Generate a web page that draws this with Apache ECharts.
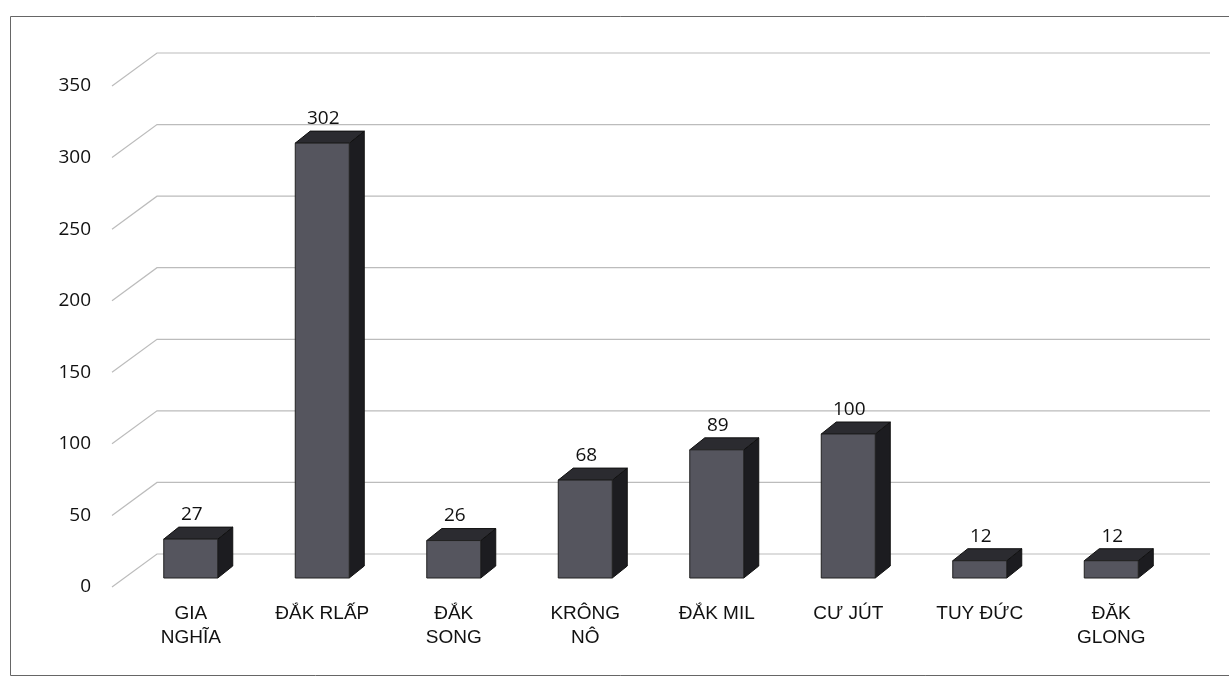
<!DOCTYPE html>
<html>
<head>
<meta charset="utf-8">
<script src="https://cdn.jsdelivr.net/npm/echarts@6/dist/echarts.min.js"></script>
<style>
  html, body { margin: 0; background: #fff; }
  #chart { width: 1229px; height: 679px; }
</style>
</head>
<body>
<div id="chart"></div>
<script>
// districts and counts
const districts = ["GIA\nNGHĨA", "ĐẮK RLẤP", "ĐẮK\nSONG", "KRÔNG\nNÔ", "ĐẮK MIL", "CƯ JÚT", "TUY ĐỨC", "ĐĂK\nGLONG"];
const counts = [27, 302, 26, 68, 89, 100, 12, 12];
const yTicks = [0, 50, 100, 150, 200, 250, 300, 350];

const chart = echarts.init(document.getElementById("chart"));

// depth of the back wall and of the boxes
const WALL_DX = 45, WALL_DY = -33;
const BOX_W = 54, BOX_DX = 15, BOX_DY = -12;

const option = {
  animation: false,
  backgroundColor: "#fff",
  graphic: [
    {
      type: "rect",
      shape: { x: 10.5, y: 16.5, width: 1240, height: 659 },
      style: { fill: "none", stroke: "#666", lineWidth: 1 },
      z: -10,
    },
  ],
  grid: [
    // front axis (labels + start of the slanted lines)
    { left: 112, right: 64, top: 86, bottom: 92 },
    // boxes
    { left: 125, right: 52, top: 74, bottom: 101 },
  ],
  xAxis: [
    { gridIndex: 0, type: "value", min: 0, max: 1, show: false },
    {
      gridIndex: 1,
      type: "category",
      data: districts,
      axisLine: { show: false },
      axisTick: { show: false },
      axisLabel: {
        margin: 24,
        fontFamily: "Liberation Sans",
        fontSize: 19,
        lineHeight: 24,
        color: "#111",
      },
    },
  ],
  yAxis: [
    {
      gridIndex: 0,
      type: "value",
      min: 0,
      max: 350,
      interval: 50,
      axisLine: { show: false },
      axisTick: { show: false },
      splitLine: { show: false },
      axisLabel: {
        margin: 21,
        fontFamily: "Open Sans",
        fontSize: 19,
        color: "#111",
      },
    },
    { gridIndex: 1, type: "value", min: 0, max: 350, show: false },
  ],
  series: [
    {
      // back wall grid lines
      type: "custom",
      xAxisIndex: 0,
      yAxisIndex: 0,
      silent: true,
      data: yTicks.map((v) => [0, v]),
      renderItem: (params, api) => {
        const p = api.coord([0, api.value(1)]);
        const r = api.coord([1, api.value(1)]);
        const bx = p[0] + WALL_DX, by = p[1] + WALL_DY;
        return {
          type: "polyline",
          shape: { points: [p, [bx, by], [r[0] + WALL_DX, by]] },
          style: { fill: "none", stroke: "#bcbcbc", lineWidth: 1.2 },
        };
      },
      z: 1,
    },
    {
      // 3D boxes
      type: "custom",
      xAxisIndex: 1,
      yAxisIndex: 1,
      data: counts.map((v, i) => [i, v]),
      renderItem: (params, api) => {
        const base = api.coord([api.value(0), 0]);
        const top = api.coord([api.value(0), api.value(1)]);
        const x0 = base[0] - BOX_W / 2, x1 = base[0] + BOX_W / 2;
        const yb = base[1], yt = top[1];
        return {
          type: "group",
          children: [
            {
              type: "polygon",
              shape: { points: [[x1, yt], [x1 + BOX_DX, yt + BOX_DY], [x1 + BOX_DX, yb + BOX_DY], [x1, yb]] },
              style: { fill: "#1c1c20", stroke: "#111", lineWidth: 1 },
            },
            {
              type: "polygon",
              shape: { points: [[x0, yt], [x0 + BOX_DX, yt + BOX_DY], [x1 + BOX_DX, yt + BOX_DY], [x1, yt]] },
              style: { fill: "#2b2b30", stroke: "#111", lineWidth: 1 },
            },
            {
              type: "rect",
              shape: { x: x0, y: yt, width: BOX_W, height: yb - yt },
              style: { fill: "#55555e", stroke: "#222", lineWidth: 1 },
            },
            {
              type: "text",
              x: base[0] + 1,
              y: yt + BOX_DY - 3,
              style: {
                text: String(api.value(1)),
                fontFamily: "Open Sans",
                fontSize: 19,
                fill: "#111",
                align: "center",
                verticalAlign: "bottom",
              },
            },
          ],
        };
      },
      z: 5,
    },
  ],
};

chart.setOption(option);
</script>
</body>
</html>
